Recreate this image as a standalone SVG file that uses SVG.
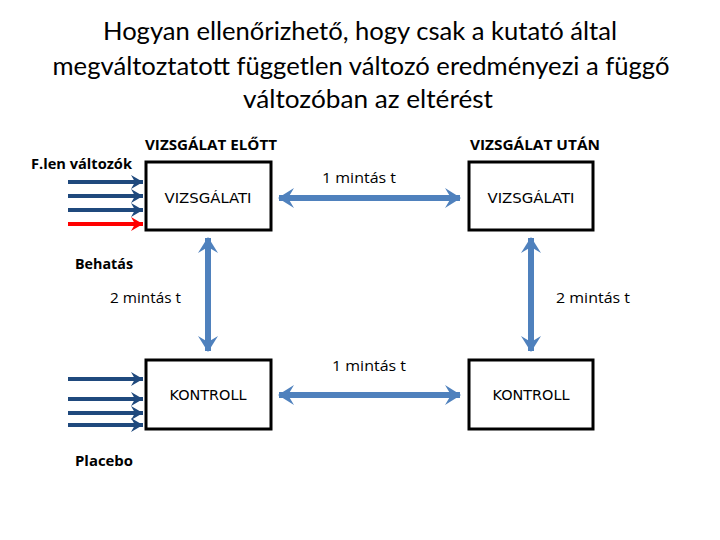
<svg xmlns="http://www.w3.org/2000/svg" width="720" height="540" viewBox="0 0 720 540">
<style>
.title{font-family:Lato,"Liberation Sans",sans-serif;font-size:25px;fill:#000;text-anchor:middle}
.hdr{font-family:"Open Sans","Liberation Sans",sans-serif;font-size:15px;font-weight:bold;fill:#000}
.lbl{font-family:"Open Sans","Liberation Sans",sans-serif;font-size:15px;fill:#000}
.box{fill:#fff;stroke:#000;stroke-width:3}
.boxt{font-family:"DejaVu Sans","Liberation Sans",sans-serif;font-size:14px;fill:#000;text-anchor:middle}
.big{stroke:#4F81BD;stroke-width:6;fill:none}
.in{stroke:#1F497D;stroke-width:4;fill:none}
.red{stroke:#FF0000;stroke-width:4;fill:none}
</style>
<defs>
<marker id="bh" viewBox="0 0 16 20" refX="15" refY="10" markerWidth="16" markerHeight="20" markerUnits="userSpaceOnUse" orient="auto-start-reverse">
<path d="M0,0 L16,10 L0,20 L6,10 Z" fill="#4F81BD"/>
</marker>
<marker id="dh" viewBox="0 0 12 14" refX="12" refY="7" markerWidth="12" markerHeight="14" markerUnits="userSpaceOnUse" orient="auto">
<path d="M0,0 L12,7 L0,14 L4,7 Z" fill="#1F497D"/>
</marker>
<marker id="rh" viewBox="0 0 12 14" refX="12" refY="7" markerWidth="12" markerHeight="14" markerUnits="userSpaceOnUse" orient="auto">
<path d="M0,0 L12,7 L0,14 L4,7 Z" fill="#FF0000"/>
</marker>
</defs>
<rect width="720" height="540" fill="#fff"/>
<g id="title">
<text class="title" x="360" y="40" textLength="514" lengthAdjust="spacingAndGlyphs">Hogyan ellenőrizhető, hogy csak a kutató által</text>
<text class="title" x="361" y="75" textLength="617" lengthAdjust="spacingAndGlyphs">megváltoztatott független változó eredményezi a függő</text>
<text class="title" x="368" y="108" textLength="250" lengthAdjust="spacingAndGlyphs">változóban az eltérést</text>
</g>
<g id="connectors">
<line class="big" x1="279" y1="198" x2="460" y2="198" marker-start="url(#bh)" marker-end="url(#bh)"/>
<line class="big" x1="279" y1="395" x2="460" y2="395" marker-start="url(#bh)" marker-end="url(#bh)"/>
<line class="big" x1="208" y1="238" x2="208" y2="351" marker-start="url(#bh)" marker-end="url(#bh)"/>
<line class="big" x1="531" y1="238" x2="531" y2="351" marker-start="url(#bh)" marker-end="url(#bh)"/>
<line class="in" x1="68" y1="182" x2="143" y2="182" marker-end="url(#dh)"/>
<line class="in" x1="68" y1="196" x2="143" y2="196" marker-end="url(#dh)"/>
<line class="in" x1="68" y1="210" x2="143" y2="210" marker-end="url(#dh)"/>
<line class="red" x1="68" y1="224" x2="143" y2="224" marker-end="url(#rh)"/>
<line class="in" x1="68" y1="379" x2="143" y2="379" marker-end="url(#dh)"/>
<line class="in" x1="68" y1="399" x2="143" y2="399" marker-end="url(#dh)"/>
<line class="in" x1="68" y1="413" x2="143" y2="413" marker-end="url(#dh)"/>
<line class="in" x1="68" y1="425" x2="143" y2="425" marker-end="url(#dh)"/>
</g>
<g id="node-vizsgalati-elott">
<rect class="box" x="146" y="162" width="125" height="68"/>
<text class="boxt" x="208" y="203" textLength="87" lengthAdjust="spacingAndGlyphs">VIZSGÁLATI</text>
</g>
<g id="node-vizsgalati-utan">
<rect class="box" x="469" y="162" width="124" height="68"/>
<text class="boxt" x="531" y="203" textLength="87" lengthAdjust="spacingAndGlyphs">VIZSGÁLATI</text>
</g>
<g id="node-kontroll-elott">
<rect class="box" x="146" y="360" width="125" height="69"/>
<text class="boxt" x="208" y="400" textLength="77" lengthAdjust="spacingAndGlyphs">KONTROLL</text>
</g>
<g id="node-kontroll-utan">
<rect class="box" x="469" y="360" width="124" height="69"/>
<text class="boxt" x="531" y="400" textLength="77" lengthAdjust="spacingAndGlyphs">KONTROLL</text>
</g>
<g id="labels">
<text class="hdr" x="145" y="150" textLength="132" lengthAdjust="spacingAndGlyphs">VIZSGÁLAT ELŐTT</text>
<text class="hdr" x="470" y="150" textLength="130" lengthAdjust="spacingAndGlyphs">VIZSGÁLAT UTÁN</text>
<text class="hdr" x="31" y="169" textLength="101" lengthAdjust="spacingAndGlyphs">F.len változók</text>
<text class="hdr" x="75" y="269" textLength="58" lengthAdjust="spacingAndGlyphs">Behatás</text>
<text class="hdr" x="75" y="466" textLength="58" lengthAdjust="spacingAndGlyphs">Placebo</text>
<text class="lbl" x="322" y="183" textLength="74" lengthAdjust="spacingAndGlyphs">1 mintás t</text>
<text class="lbl" x="332" y="371" textLength="74" lengthAdjust="spacingAndGlyphs">1 mintás t</text>
<text class="lbl" x="110" y="303" textLength="71" lengthAdjust="spacingAndGlyphs">2 mintás t</text>
<text class="lbl" x="556" y="303" textLength="74" lengthAdjust="spacingAndGlyphs">2 mintás t</text>
</g>
</svg>
